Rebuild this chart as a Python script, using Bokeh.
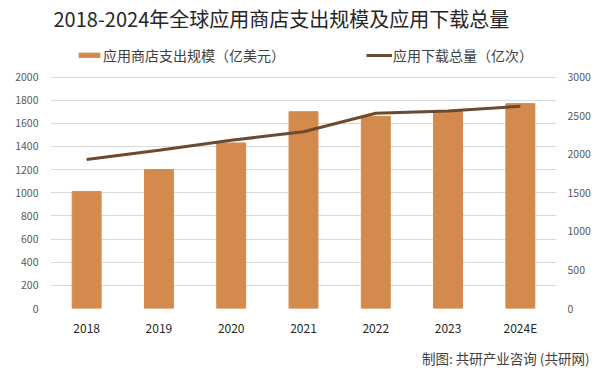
from bokeh.plotting import figure
from bokeh.models import Range1d, LinearAxis, FixedTicker, Legend, LegendItem, Title, Label
from bokeh.embed import file_html
from bokeh.resources import INLINE

years = ["2018", "2019", "2020", "2021", "2022", "2023", "2024E"]
spend = [1010, 1200, 1430, 1700, 1660, 1710, 1770]
downloads = [1930, 2050, 2180, 2290, 2530, 2560, 2620]
left_ticks = [0, 200, 400, 600, 800, 1000, 1200, 1400, 1600, 1800, 2000]
right_ticks = [0, 500, 1000, 1500, 2000, 2500, 3000]

FONT = "Noto Sans CJK SC"
BAR = "#D38A4C"
LINE = "#6B4A2F"

W, H = 601, 374
FRAME_LEFT, FRAME_RIGHT = 50, 556
FRAME_BOTTOM = 310   # px where value 0 sits
FRAME_TOP_VAL = 77   # px where top tick sits
scale = (FRAME_BOTTOM - FRAME_TOP_VAL)
left_end = left_ticks[-1] * FRAME_BOTTOM / scale
right_end = right_ticks[-1] * FRAME_BOTTOM / scale

def ly(py):
    return left_ticks[-1] * (FRAME_BOTTOM - py) / scale

def lx(px):
    return len(years) * (px - FRAME_LEFT) / (FRAME_RIGHT - FRAME_LEFT)

p = figure(x_range=years, y_range=Range1d(0, left_end), width=W, height=H,
           output_backend="svg", toolbar_location=None, title=None,
           min_border_left=FRAME_LEFT, min_border_right=W - FRAME_RIGHT,
           min_border_bottom=H - FRAME_BOTTOM, min_border_top=0)
p.extra_y_ranges = {"dl": Range1d(0, right_end)}

r_bar = p.vbar(x=years, top=spend, width=0.4, color=BAR)
r_line = p.line(x=years, y=downloads, y_range_name="dl", line_width=3, color=LINE)

p.yaxis.ticker = FixedTicker(ticks=left_ticks)
ax_r = LinearAxis(y_range_name="dl", ticker=FixedTicker(ticks=right_ticks))
p.add_layout(ax_r, "right")

for ax in [p.yaxis[0], ax_r, p.xaxis[0]]:
    ax.axis_line_color = None
    ax.major_tick_line_color = None
    ax.minor_tick_line_color = None
    ax.major_tick_out = 0
    ax.major_tick_in = 0
    ax.minor_tick_out = 0
    ax.major_label_text_font = FONT
for ax, sd in [(p.yaxis[0], 12), (ax_r, 11)]:
    ax.major_label_text_font_size = "10.5px"
    ax.major_label_text_color = "#595959"
    ax.major_label_standoff = sd
p.xaxis.major_label_text_font_size = "12px"
p.xaxis.major_label_text_color = "#262626"
p.xaxis.major_label_standoff = 10

p.xgrid.grid_line_color = None
p.ygrid.grid_line_color = "#D9D9D9"
p.outline_line_color = None
p.x_range.range_padding = 0

title = Label(x=0, y=ly(18), x_offset=3, text="2018-2024年全球应用商店支出规模及应用下载总量",
              text_font=FONT, text_font_size="20px", text_color="#262626",
              text_baseline="middle", text_align="left")
p.add_layout(title)

legend = Legend(items=[LegendItem(label="应用商店支出规模（亿美元）", renderers=[r_bar]),
                       LegendItem(label="应用下载总量（亿次）", renderers=[r_line])],
                orientation="horizontal", location=(26, 243))
legend.label_text_font = FONT
legend.label_text_font_size = "14px"
legend.label_text_color = "#404040"
legend.glyph_width = 26
legend.glyph_height = 6
legend.label_height = 16
legend.spacing = 81
legend.padding = 0
legend.margin = 0
legend.border_line_color = None
legend.background_fill_alpha = 0
legend.label_standoff = 1
p.add_layout(legend, "center")

foot = Title(text="制图: 共研产业咨询 (共研网)", align="right", text_font=FONT,
             text_font_size="13.5px", text_font_style="normal", text_color="#404040",
             standoff=14, offset=-33)
p.add_layout(foot, "below")

icon = Label(x=lx(404), y=ly(357.5), text="G", text_font=FONT, text_font_size="10px",
             text_font_style="bold", text_color="white", text_align="center",
             text_baseline="middle", background_fill_color="#F0883A",
             padding=2, border_radius=2)
p.add_layout(icon)

open("out.html", "w").write(file_html(p, INLINE))
